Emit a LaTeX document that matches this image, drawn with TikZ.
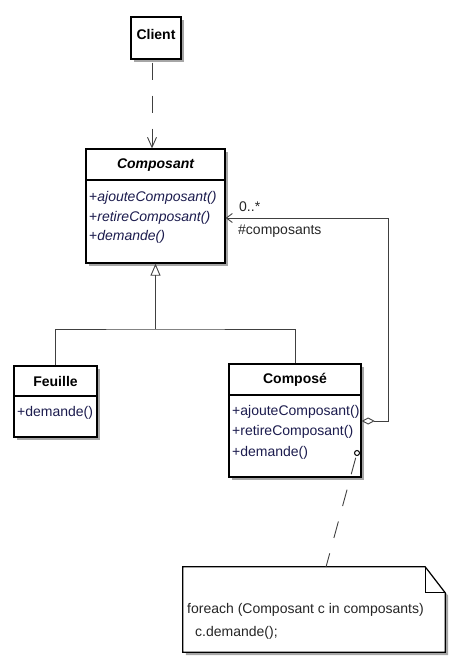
\documentclass[tikz,border=0pt]{standalone}
\usepackage{fontspec}
\setmainfont{Liberation Sans}
\usetikzlibrary{arrows.meta,shadows,calc}

\definecolor{methblue}{RGB}{28,28,78}
\definecolor{linegray}{RGB}{64,64,64}
\newcommand{\umlfont}{\fontsize{14}{17}\selectfont}

\tikzset{
  classbox/.style={draw=black, line width=1.3pt, fill=white, inner sep=0pt,
    drop shadow={shadow xshift=3pt, shadow yshift=-3pt, fill=black!35, opacity=1}},
  classname/.style={font=\umlfont\bfseries, inner sep=0pt},
  member/.style={font=\umlfont, text=methblue, inner sep=0pt, anchor=west},
  sepline/.style={draw=black, line width=1.1pt},
  link/.style={draw=linegray, line width=0.9pt},
  dashlink/.style={link, dash pattern=on 17pt off 16pt},
  ball/.style={circle, draw=black, line width=1pt, fill=white, minimum size=5pt, inner sep=0pt},
  notetext/.style={font=\umlfont, text=black!85, inner sep=0pt, anchor=west}
}

\begin{document}
\begin{tikzpicture}[x=1pt,y=-1pt]
\useasboundingbox (0,0) rectangle (458,669);

% classes
\node[classbox, minimum width=50pt, minimum height=42pt] (client) at (156,38) {};
\node[classname] (clientname) at (156,34) {Client};

\node[classbox, minimum width=139pt, minimum height=114pt] (composant) at (155.5,206) {};
\draw[sepline] (composant.west |- 0,180) -- (composant.east |- 0,180);
\node[classname, font=\umlfont\bfseries\itshape] (composantname) at (155.5,165) {Composant};
\node[member] (composantm1) at (89,198) {+\textit{ajouteComposant()}};
\node[member] (composantm2) at (89,218) {+\textit{retireComposant()}};
\node[member] (composantm3) at (89,237) {+\textit{demande()}};

\node[classbox, minimum width=83pt, minimum height=71pt] (feuille) at (55.5,401.5) {};
\draw[sepline] (feuille.west |- 0,396) -- (feuille.east |- 0,396);
\node[classname] (feuillename) at (55.5,381) {Feuille};
\node[member] (feuillem1) at (17,413) {+demande()};

\node[classbox, minimum width=132pt, minimum height=113pt] (compose) at (295,420.5) {};
\draw[sepline] (compose.west |- 0,395) -- (compose.east |- 0,395);
\node[classname] (composename) at (295,380) {Composé};
\node[member] (composem1) at (232,412) {+ajouteComposant()};
\node[member] (composem2) at (232,432) {+retireComposant()};
\node[member] (composem3) at (232,453) {+demande()};

% note
\node[inner sep=0pt, minimum width=262pt, minimum height=85pt] (note) at (314,609.5) {};
\fill[black!35] ($(note.north west)+(3,3)$) -- ($(note.north east)+(-17,3)$)
  -- ($(note.north east)+(3,29)$) -- ($(note.south east)+(3,3)$)
  -- ($(note.south west)+(3,3)$) -- cycle;
\draw[line width=1.2pt, fill=white] (note.north west) -- ($(note.north east)+(-20,0)$)
  -- ($(note.north east)+(0,26)$) -- (note.south east) -- (note.south west) -- cycle;
\draw[line width=1.2pt] ($(note.north east)+(-20,0)$) -- ($(note.north east)+(-20,26)$)
  -- ($(note.north east)+(0,26)$);
\node[notetext] (notel1) at (187,610) {foreach (Composant c in composants)};
\node[notetext] (notel2) at (195,633) {c.demande();};
\coordinate (notetop) at (326,567);

% connectors
\draw[dashlink, dash phase=-3pt, -{Straight Barb[length=10pt,width=9pt]}]
  (client.south -| 152,0) -- (composant.north -| 152,0);

\coordinate (fork) at (155.5,329);
\draw[link, -{Triangle[open, length=12pt, width=10pt]}] (fork) -- (composant.south);
\draw[link] (feuille.north) |- (fork) -| (compose.north);

\coordinate (aggout) at (388,421);
\draw[link, {Diamond[open, length=13pt, width=7pt]}-{Straight Barb[length=6pt,width=9pt]}]
  (compose.east |- aggout) -- (aggout) |- (composant.east |- 0,218);
\node[member, text=black!85] (mult) at (239,207) {0..*};
\node[member, text=black!85] (role) at (238,231) {\#composants};

\node[ball] (ball) at (357,453) {};
\draw[dashlink, dash phase=-2pt] (ball) -- (notetop);
\end{tikzpicture}
\end{document}
